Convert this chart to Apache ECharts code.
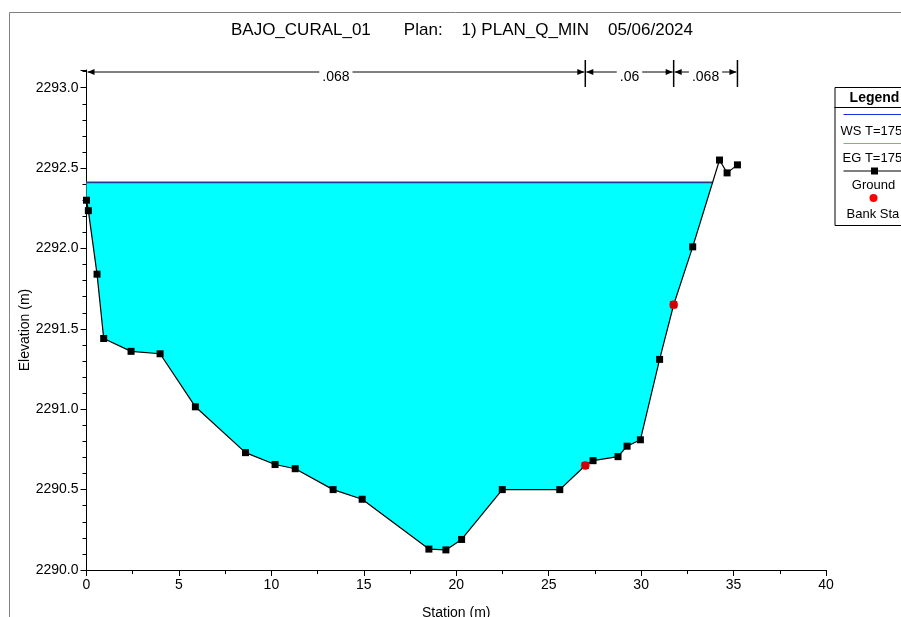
<!DOCTYPE html>
<html>
<head>
<meta charset="utf-8">
<script src="https://cdn.jsdelivr.net/npm/echarts@6/dist/echarts.min.js"></script>
<style>
html,body{margin:0;padding:0;background:#fff;}
#chart{width:901px;height:617px;}
</style>
</head>
<body>
<div id="chart"></div>
<script>
// ---- data ----
const station = [0, 0.1, 0.57, 0.93, 2.41, 3.98, 5.89, 8.60, 10.2, 11.29, 13.34, 14.91, 18.52, 19.44, 20.29, 22.49, 25.6, 26.98, 27.4, 28.75, 29.24, 29.96, 31.0, 31.76, 32.79, 34.24, 34.65, 35.21];
const elevation = [2292.30, 2292.235, 2291.84, 2291.44, 2291.36, 2291.345, 2291.015, 2290.73, 2290.656, 2290.63, 2290.50, 2290.44, 2290.13, 2290.125, 2290.19, 2290.50, 2290.50, 2290.65, 2290.68, 2290.705, 2290.77, 2290.81, 2291.31, 2291.65, 2292.01, 2292.55, 2292.47, 2292.52];
const bankStations = [26.98, 31.76];
const wsElev = 2292.41;
const egElev = 2292.414;
const nBreaks = [0, 26.98, 31.76, 35.21];
const nValues = ['.068', '.06', '.068'];
const titleText = 'BAJO_CURAL_01       Plan:    1) PLAN_Q_MIN    05/06/2024';
const legendItems = ['WS T=175', 'EG T=175', 'Ground', 'Bank Sta'];

// ---- derived ----
const ground = station.map((x, i) => [x, elevation[i]]);
const banks = bankStations.map(b => [b, elevation[station.indexOf(b)]]);

// wet polygon: ground clipped to below water surface
function wetPolygon(pts, ws) {
  const poly = [];
  let lastX = null;
  for (let i = 0; i < pts.length; i++) {
    const p = pts[i];
    if (p[1] <= ws) poly.push(p);
    if (i < pts.length - 1) {
      const q = pts[i + 1];
      if ((p[1] - ws) * (q[1] - ws) < 0) {
        const t = (ws - p[1]) / (q[1] - p[1]);
        const xi = p[0] + t * (q[0] - p[0]);
        poly.push([xi, ws]);
        if (p[1] < ws) { lastX = xi; break; }
      }
    }
  }
  const firstX = poly[0][0];
  poly.unshift([firstX, ws]);
  return { poly: poly, right: lastX };
}
const wet = wetPolygon(ground, wsElev);
const wsLine = [[ground[0][0], wsElev], [wet.right, wsElev]];
const egLine = [[ground[0][0], egElev], [wet.right, egElev]];

const FONT = 'Liberation Sans, Arial, sans-serif';
const chart = echarts.init(document.getElementById('chart'), null, {renderer: 'canvas'});

const legendX = 832, legendY = 87;
const option = {
  animation: false,
  backgroundColor: '#ffffff',
  title: {
    text: titleText,
    left: 457, top: 17, textAlign: 'center',
    textStyle: {fontFamily: FONT, fontSize: 17, fontWeight: 'normal', color: '#000'}
  },
  grid: {left: 86.5, right: 75, top: 70, bottom: 47, outerBoundsMode: 'none', containLabel: false},
  xAxis: {
    type: 'value', min: 0, max: 40, interval: 5,
    name: 'Station (m)', nameLocation: 'middle', nameGap: 36, nameMoveOverlap: false,
    nameTextStyle: {fontFamily: FONT, fontSize: 14, color: '#000'},
    axisLine: {lineStyle: {color: '#000', width: 1}},
    axisTick: {length: 6, lineStyle: {color: '#000'}},
    minorTick: {show: true, splitNumber: 2, length: 4, lineStyle: {color: '#000'}},
    axisLabel: {fontFamily: FONT, fontSize: 14, color: '#000', margin: 8},
    splitLine: {show: false}
  },
  yAxis: {
    type: 'value', min: 2290, max: 2293.11, interval: 0.5,
    name: 'Elevation (m)', nameLocation: 'middle', nameGap: 54, nameMoveOverlap: false,
    nameTextStyle: {fontFamily: FONT, fontSize: 14, color: '#000', padding: [0, 20, 0, 0]},
    axisLine: {show: true, lineStyle: {color: '#000', width: 1}},
    axisTick: {show: true, length: 6, lineStyle: {color: '#000'}},
    minorTick: {show: true, splitNumber: 5, length: 4, lineStyle: {color: '#000'}},
    axisLabel: {fontFamily: FONT, fontSize: 14, color: '#000', margin: 8,
      formatter: v => v.toFixed(1), showMaxLabel: false},
    splitLine: {show: false}
  },
  series: [
    {
      type: 'custom', name: 'wet', z: 1, silent: true,
      data: [[0, wsElev]],
      renderItem: function (params, api) {
        return {
          type: 'polygon',
          shape: {points: wet.poly.map(p => api.coord(p))},
          style: {fill: '#00ffff', stroke: null}
        };
      }
    },
    {
      type: 'line', name: 'EG', z: 3, data: egLine, symbol: 'none',
      lineStyle: {color: '#7fae7f', width: 1}
    },
    {
      type: 'line', name: 'WS', z: 4, data: wsLine, symbol: 'none',
      lineStyle: {color: '#1a3c92', width: 1.5}
    },
    {
      type: 'line', name: 'Ground', z: 5, data: ground,
      symbol: 'rect', symbolSize: 7,
      itemStyle: {color: '#000'},
      lineStyle: {color: '#000', width: 1.2}
    },
    {
      type: 'scatter', name: 'Bank Sta', z: 6, data: banks,
      symbol: 'circle', symbolSize: 9,
      itemStyle: {color: '#ff0000'}
    },
    {
      type: 'custom', name: 'manning', z: 7, clip: false, silent: true,
      data: nValues.map((v, i) => [nBreaks[i], nBreaks[i + 1], i]),
      renderItem: function (params, api) {
        const i = api.value(2);
        const a = api.coord([api.value(0), 2293])[0];
        const b = api.coord([api.value(1), 2293])[0];
        const y = params.coordSys.y + 2;
        const mid = (a + b) / 2;
        const label = nValues[i];
        const children = [];
        const ah = 7, aw = 3;
        children.push({type: 'line', shape: {x1: a + 1, y1: y, x2: b - 1, y2: y}, style: {stroke: '#000', lineWidth: 1}});
        children.push({type: 'polygon', shape: {points: [[a + 1, y], [a + 1 + ah, y - aw], [a + 1 + ah, y + aw]]}, style: {fill: '#000'}});
        children.push({type: 'polygon', shape: {points: [[b - 1, y], [b - 1 - ah, y - aw], [b - 1 - ah, y + aw]]}, style: {fill: '#000'}});
        children.push({type: 'text', x: mid, y: y + 5, style: {
          text: label, fontFamily: FONT, fontSize: 14, fill: '#000',
          align: 'center', verticalAlign: 'middle',
          backgroundColor: '#fff', padding: [0, 3, 0, 3]
        }});
        children.push({type: 'line', shape: {x1: b, y1: y - 12, x2: b, y2: y + 15}, style: {stroke: '#000', lineWidth: 1.5}});
        return {type: 'group', children: children};
      }
    }
  ],
  graphic: [
    {type: 'rect', z: -10, silent: true, shape: {x: 9.5, y: 12.5, width: 1000, height: 1000},
      style: {fill: null, stroke: '#808080', lineWidth: 1}},
    {
      type: 'group', left: legendX, top: legendY, z: 100, silent: true,
      children: [
        {type: 'rect', shape: {x: 0.5, y: 0.5, width: 120, height: 138}, style: {fill: '#fff', stroke: '#000', lineWidth: 1}},
        {type: 'text', x: 40, y: 11, style: {text: 'Legend', fontFamily: FONT, fontSize: 14, fontWeight: 'bold', fill: '#000', align: 'center', verticalAlign: 'middle'}},
        {type: 'line', shape: {x1: 0, y1: 20.5, x2: 120, y2: 20.5}, style: {stroke: '#000', lineWidth: 1}},
        {type: 'line', shape: {x1: 9, y1: 27.5, x2: 120, y2: 27.5}, style: {stroke: '#1a2fe0', lineWidth: 1.2}},
        {type: 'text', x: 6, y: 44, style: {text: legendItems[0], fontFamily: FONT, fontSize: 13, fill: '#000', align: 'left', verticalAlign: 'middle'}},
        {type: 'line', shape: {x1: 9, y1: 56.5, x2: 120, y2: 56.5}, style: {stroke: '#7fb47f', lineWidth: 1.2}},
        {type: 'text', x: 8, y: 71, style: {text: legendItems[1], fontFamily: FONT, fontSize: 13, fill: '#000', align: 'left', verticalAlign: 'middle'}},
        {type: 'line', shape: {x1: 9, y1: 84, x2: 120, y2: 84}, style: {stroke: '#000', lineWidth: 1.2}},
        {type: 'rect', shape: {x: 36.5, y: 80.5, width: 7, height: 7}, style: {fill: '#000'}},
        {type: 'text', x: 39, y: 98, style: {text: legendItems[2], fontFamily: FONT, fontSize: 13, fill: '#000', align: 'center', verticalAlign: 'middle'}},
        {type: 'circle', shape: {cx: 39, cy: 111, r: 4}, style: {fill: '#ff0000'}},
        {type: 'text', x: 12, y: 127, style: {text: legendItems[3], fontFamily: FONT, fontSize: 13, fill: '#000', align: 'left', verticalAlign: 'middle'}}
      ]
    }
  ]
};
chart.setOption(option);
</script>
</body>
</html>
